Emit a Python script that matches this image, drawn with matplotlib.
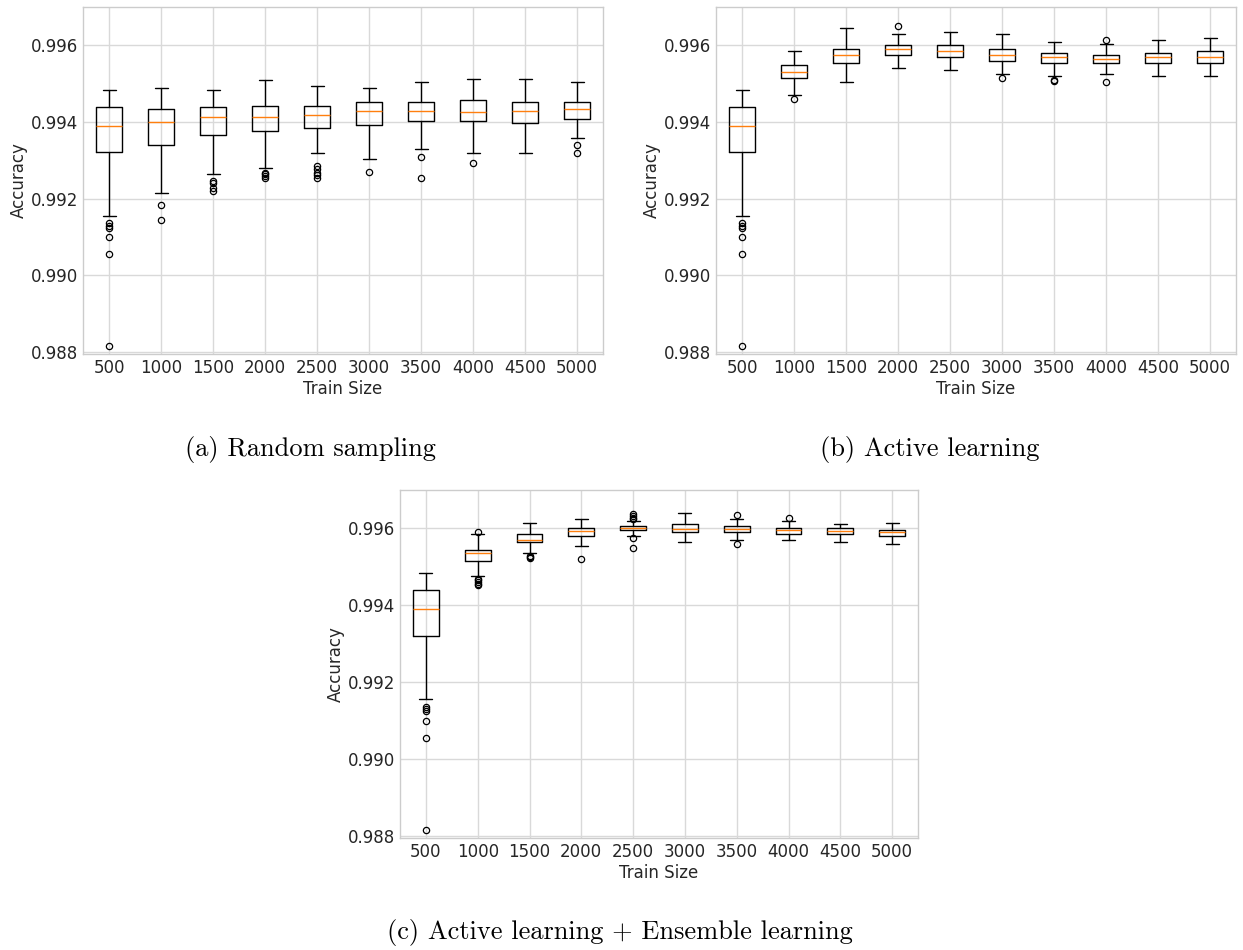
import matplotlib
matplotlib.use("Agg")
import matplotlib.pyplot as plt

plt.style.use("seaborn-v0_8-whitegrid")
plt.rcParams["font.family"] = ["DejaVu Sans"]

train_sizes = [500, 1000, 1500, 2000, 2500, 3000, 3500, 4000, 4500, 5000]

# (a) Random sampling
rs_whislo = [0.991552, 0.992147, 0.992638, 0.992793, 0.993190, 0.993043, 0.993293, 0.993190, 0.993190, 0.993586]
rs_q1 = [0.993216, 0.993388, 0.993672, 0.993776, 0.993836, 0.993931, 0.994026, 0.994026, 0.993983, 0.994078]
rs_med = [0.993905, 0.993991, 0.994129, 0.994129, 0.994181, 0.994284, 0.994284, 0.994259, 0.994284, 0.994336]
rs_q3 = [0.994388, 0.994336, 0.994388, 0.994431, 0.994431, 0.994534, 0.994534, 0.994586, 0.994534, 0.994534]
rs_whishi = [0.994836, 0.994879, 0.994836, 0.995086, 0.994931, 0.994879, 0.995034, 0.995129, 0.995129, 0.995034]
rs_fliers = [
    [0.991360, 0.991300, 0.991240, 0.991000, 0.990552, 0.988164],
    [0.991845, 0.991448],
    [0.992466, 0.992405, 0.992284, 0.992207],
    [0.992681, 0.992638, 0.992595, 0.992552],
    [0.992853, 0.992767, 0.992681, 0.992612, 0.992543],
    [0.992690],
    [0.993095, 0.992543],
    [0.992940],
    [],
    [0.993388, 0.993190],
]

# (b) Active learning
al_whislo = [0.991552, 0.994698, 0.995052, 0.995397, 0.995345, 0.995259, 0.995198, 0.995250, 0.995198, 0.995198]
al_q1 = [0.993216, 0.995147, 0.995552, 0.995759, 0.995698, 0.995595, 0.995543, 0.995534, 0.995543, 0.995543]
al_med = [0.993905, 0.995302, 0.995759, 0.995897, 0.995845, 0.995750, 0.995690, 0.995638, 0.995690, 0.995690]
al_q3 = [0.994388, 0.995500, 0.995905, 0.996017, 0.996000, 0.995897, 0.995802, 0.995759, 0.995802, 0.995845]
al_whishi = [0.994836, 0.995845, 0.996440, 0.996293, 0.996345, 0.996293, 0.996095, 0.996043, 0.996147, 0.996198]
al_fliers = [
    [0.991360, 0.991300, 0.991240, 0.991000, 0.990552, 0.988164],
    [0.994595],
    [],
    [0.996500],
    [],
    [0.995147],
    [0.995103, 0.995078],
    [0.996147, 0.995052],
    [],
    [],
]

# (c) Active learning + Ensemble learning
ae_whislo = [0.991552, 0.994759, 0.995353, 0.995552, 0.995802, 0.995655, 0.995707, 0.995707, 0.995655, 0.995603]
ae_q1 = [0.993216, 0.995147, 0.995638, 0.995793, 0.995948, 0.995897, 0.995897, 0.995853, 0.995853, 0.995802]
ae_med = [0.993905, 0.995353, 0.995707, 0.995922, 0.996000, 0.995991, 0.995991, 0.995948, 0.995922, 0.995897]
ae_q3 = [0.994388, 0.995448, 0.995853, 0.996000, 0.996069, 0.996103, 0.996052, 0.996000, 0.996000, 0.995948]
ae_whishi = [0.994836, 0.995853, 0.996147, 0.996241, 0.996181, 0.996397, 0.996241, 0.996198, 0.996103, 0.996147]
ae_fliers = [
    [0.991360, 0.991300, 0.991240, 0.991000, 0.990552, 0.988164],
    [0.995905, 0.994690, 0.994647, 0.994603, 0.994560, 0.994517],
    [0.995293, 0.995267, 0.995233],
    [0.995198],
    [0.996379, 0.996328, 0.996276, 0.996241, 0.995750, 0.995500],
    [],
    [0.996353, 0.995603],
    [0.996259],
    [],
    [],
]

panels = [
    ("(a) Random sampling", rs_whislo, rs_q1, rs_med, rs_q3, rs_whishi, rs_fliers),
    ("(b) Active learning", al_whislo, al_q1, al_med, al_q3, al_whishi, al_fliers),
    ("(c) Active learning + Ensemble learning", ae_whislo, ae_q1, ae_med, ae_q3, ae_whishi, ae_fliers),
]

W, H = 1243, 950
# axes boxes in pixels: left, top, right, bottom
boxes = [(83, 7, 603, 354), (716, 7, 1236, 354), (400, 490, 918, 838)]
captions_xy = [(310, 450), (930, 450), (620, 933)]

fig = plt.figure(figsize=(W / 100, H / 100), dpi=100)

for (title, wlo, q1, med, q3, whi, fl), (l, t, r, b), (cx, cy) in zip(panels, boxes, captions_xy):
    ax = fig.add_axes([l / W, 1 - b / H, (r - l) / W, (b - t) / H])
    stats = []
    for i in range(len(train_sizes)):
        stats.append({"whislo": wlo[i], "q1": q1[i], "med": med[i], "q3": q3[i],
                      "whishi": whi[i], "fliers": fl[i], "label": str(train_sizes[i])})
    ax.bxp(stats, showfliers=True,
           boxprops=dict(color="black", linewidth=1),
           whiskerprops=dict(color="black", linewidth=1),
           capprops=dict(color="black", linewidth=1),
           medianprops=dict(color="#ff7f0e", linewidth=1),
           flierprops=dict(marker="o", markersize=4.5, markerfacecolor="none",
                           markeredgecolor="black", markeredgewidth=0.9,
                           linestyle="none"))
    ax.set_ylim(0.98795, 0.997)
    ax.set_yticks([0.988, 0.990, 0.992, 0.994, 0.996])
    ax.set_yticklabels(["0.988", "0.990", "0.992", "0.994", "0.996"])
    ax.tick_params(labelsize=12, colors="#262626")
    ax.set_xlabel("Train Size", fontsize=12, labelpad=2)
    ax.set_ylabel("Accuracy", fontsize=12, labelpad=2)
    ax.grid(True, color="#d9d9d9", linewidth=1)
    for s in ax.spines.values():
        s.set_color("#cccccc")
    fig.text(cx / W, 1 - cy / H, title, family="cmr10", fontsize=19,
             ha="center", va="center", color="black")

fig.savefig("out.png", dpi=100)
